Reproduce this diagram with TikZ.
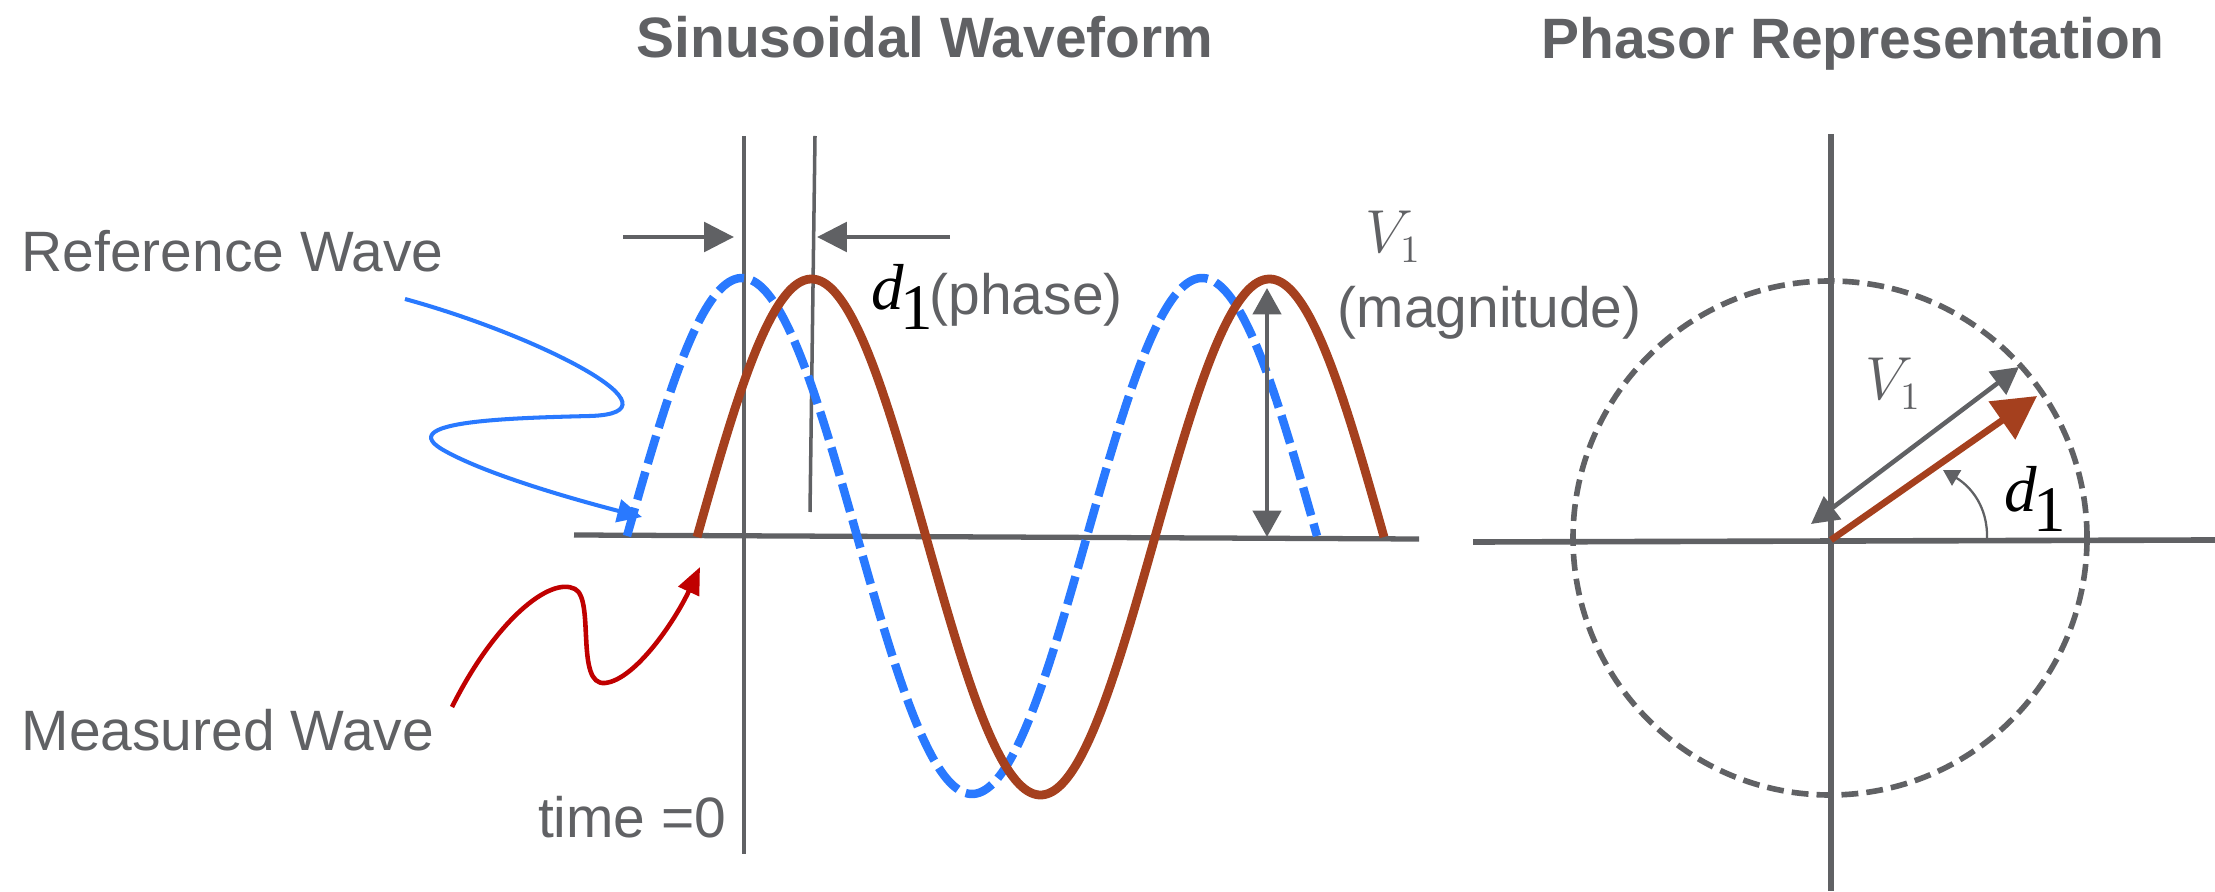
\documentclass[tikz,border=0pt]{standalone}
\usepackage{fontspec}
\setmainfont{Liberation Sans}
\newfontfamily\phasorserif{Liberation Serif}
\usetikzlibrary{arrows.meta}
\definecolor{txtgray}{RGB}{96,97,100}
\definecolor{refblue}{RGB}{41,121,255}
\definecolor{measbrown}{RGB}{165,64,30}
\definecolor{measred}{RGB}{192,0,0}
% phase angle symbol (d with a large lowered 1)
\newcommand{\dphase}{{\phasorserif\fontsize{18.5}{19}\selectfont\textit{d}\kern-1.1pt\raisebox{-5.6pt}{1}}}

\begin{document}
\begin{tikzpicture}[x=0.1mm, y=0.1mm,
    every node/.style={inner sep=0pt, text=txtgray, font=\fontsize{16.2}{19}\selectfont},
    headline/.style={font=\fontsize{16.2}{19}\selectfont\bfseries},
    plotaxis/.style={txtgray, line width=1.5pt},
    timeline/.style={txtgray, line width=1pt},
    refwave/.style={refblue, line width=2.4pt, dash pattern=on 8.3pt off 2.4pt},
    measwave/.style={measbrown, line width=2.5pt},
    gaparrow/.style={txtgray, line width=1.4pt, -{Triangle[length=8.5pt,width=8.3pt]}},
    magarrow/.style={txtgray, line width=1.15pt, {Triangle[length=7.5pt,width=8pt]}-{Triangle[length=7.5pt,width=8pt]}},
    refpointer/.style={refblue, line width=1.15pt, -{Triangle[length=7pt,width=6.5pt]}},
    measpointer/.style={measred, line width=1.3pt, -{Triangle[length=7.7pt,width=6.3pt]}},
    phaxis/.style={txtgray, line width=1.6pt},
    circdash/.style={txtgray, line width=1.6pt, dash pattern=on 4.8pt off 2.3pt},
    phasorred/.style={measbrown, line width=1.9pt, -{Triangle[length=12.2pt,width=12.8pt]}},
    phasorgray/.style={txtgray, line width=1.3pt, {Triangle[length=7.7pt,width=8pt]}-{Triangle[length=7.7pt,width=8pt]}},
    anglearrow/.style={txtgray, line width=0.65pt, -{Triangle[length=4.5pt,width=5pt]}}]
  \useasboundingbox (0,0) rectangle (2215,891);

  % titles
  \node[headline, anchor=base] (sineTitle) at (925,833) {Sinusoidal Waveform};
  \node[headline, anchor=base] (phasorTitle) at (1853,832) {Phasor Representation};

  % waveform axes
  \draw[plotaxis] (574,356) -- (1419,352);
  \draw[timeline] (744,755) -- (744,37);
  \draw[timeline] (815,755) -- (810,379);

  % reference and measured waves
  \draw[refwave] plot[domain=0:540, samples=150, smooth] ({627+(\x/360)*460},{355+258*sin(\x)});
  \draw[measwave] plot[domain=0:540, samples=150, smooth] ({697+(\x/360)*458},{354+258*sin(\x)});

  % phase gap and magnitude
  \coordinate (gapL) at (623,654);
  \coordinate (gapR) at (950,654);
  \draw[gaparrow] (gapL) -- (734,654);
  \draw[gaparrow] (gapR) -- (817,654);
  \draw[magarrow] (1267,354) -- (1267,603);

  \node[anchor=base west, text=black] (phaseSym) at (871,581) {\dphase};
  \node[anchor=base west] (phaseLabel) at (929,576) {(phase)};
  \node[anchor=base west] (magSym) at (1365,638) {\fontsize{16.2}{19}\selectfont$V_1$};
  \node[anchor=base west] (magLabel) at (1337,563) {(magnitude)};

  % wave labels with pointers
  \node[anchor=base west] (refLabel) at (21,619) {Reference Wave};
  \node[anchor=base west] (measLabel) at (21,141) {Measured Wave};
  \node[anchor=base east] (timeLabel) at (727,54) {time =0};

  \coordinate (refTail) at (405,592);
  \coordinate (refHead) at (642,374);
  \draw[refpointer] (refTail) .. controls (540,555) and (690,478) .. (590,475)
    .. controls (510,473) and (390,470) .. (445,440)
    .. controls (490,415) and (580,390) .. (refHead);

  \coordinate (measTail) at (452,184);
  \coordinate (measHead) at (700,324);
  \draw[measpointer] (measTail) .. controls (495,270) and (550,315) .. (575,302)
    .. controls (595,292) and (575,205) .. (605,208)
    .. controls (635,211) and (675,270) .. (measHead);

  % phasor diagram
  \coordinate (O) at (1831,351);
  \draw[phaxis] (1473,349) -- (2215,351);
  \draw[phaxis] (1831,757) -- (1831,0);
  \draw[circdash] (1830,353) circle (257);
  \draw[phasorgray] (1811,367) -- (2019,524);
  \draw[phasorred] (O) -- (2037,495);
  \draw[anglearrow] (1987,352) .. controls (1988,385) and (1970,405) .. (1943,421);

  \node[anchor=base west] (phasorV) at (1865,491) {\fontsize{16.2}{19}\selectfont$V_1$};
  \node[anchor=base west, text=black] (phasorD) at (2004,379) {\dphase};
\end{tikzpicture}
\end{document}
